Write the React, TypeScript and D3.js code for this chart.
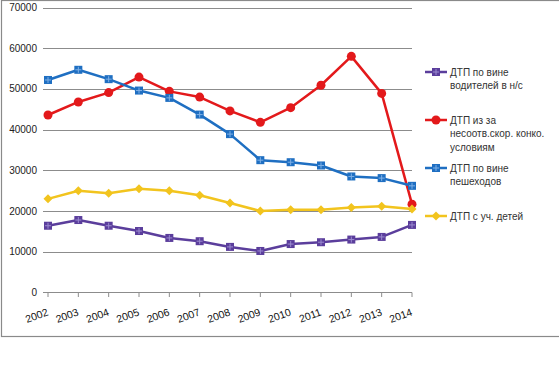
import React from "react";
import * as d3 from "d3";

const years = ["2002","2003","2004","2005","2006","2007","2008","2009","2010","2011","2012","2013","2014"];
const drivers = [16400, 17800, 16400, 15100, 13400, 12600, 11200, 10200, 11900, 12350, 13000, 13650, 16600];
const speed = [43600, 46800, 49100, 52900, 49400, 48000, 44600, 41800, 45400, 50900, 58000, 48900, 21700];
const pedestrians = [52200, 54700, 52400, 49600, 47800, 43700, 38900, 32500, 32000, 31200, 28500, 28100, 26200];
const children = [23000, 25000, 24400, 25500, 25000, 23900, 22000, 20000, 20300, 20300, 20900, 21200, 20500];
const yTicks = [0, 10000, 20000, 30000, 40000, 50000, 60000, 70000];

const seriesNames = [
  ["ДТП по вине", "водителей в н/с"],
  ["ДТП из за", "несоотв.скор. конко.", "условиям"],
  ["ДТП по вине", "пешеходов"],
  ["ДТП с уч. детей"],
];

const series = [
  { values: drivers, color: "#5B3E9C", marker: "square", cross: "#9b8bd0", legendY: 72 },
  { values: speed, color: "#E3191B", marker: "circle", cross: "", legendY: 120 },
  { values: pedestrians, color: "#1F6FC2", marker: "square", cross: "#7fb0e6", legendY: 168 },
  { values: children, color: "#F2C41E", marker: "diamond", cross: "", legendY: 216 },
];

const FONT = "'Liberation Sans', Arial, sans-serif";

function Marker({ type, x, y, color, cross }: { type: string; x: number; y: number; color: string; cross: string }) {
  if (type === "square") {
    const s = 8;
    return (
      <g>
        <rect x={x - s / 2} y={y - s / 2} width={s} height={s} fill={color} />
        {cross && (
          <g stroke={cross} strokeWidth={1}>
            <line x1={x - s / 2 + 1} x2={x + s / 2 - 1} y1={y} y2={y} />
            <line x1={x} x2={x} y1={y - s / 2 + 1} y2={y + s / 2 - 1} />
          </g>
        )}
      </g>
    );
  }
  if (type === "circle") {
    return <circle cx={x} cy={y} r={4.5} fill={color} />;
  }
  const d = 4.5;
  return <path d={`M${x},${y - d}L${x + d},${y}L${x},${y + d}L${x - d},${y}Z`} fill={color} />;
}

export default function App() {
  const W = 559, H = 384;
  const x = d3.scalePoint<string>().domain(years).range([48, 412]);
  const y = d3.scaleLinear().domain([0, 70000]).range([292.5, 7.5]);
  const line = d3.line<number>().x((_, i) => x(years[i])!).y((v) => y(v));

  return (
    <svg width={W} height={H} style={{ position: "absolute", left: 0, top: 0, background: "#fff" }} fontFamily={FONT}>
      <rect x={0} y={0} width={W} height={H} fill="#fff" />
      <rect x={1.5} y={0.5} width={W + 5} height={336} fill="none" stroke="#8a8a8a" strokeWidth={1.2} />
      {yTicks.map((t) => (
        <g key={t}>
          {t > 0 && <line x1={43} x2={412} y1={Math.round(y(t)) + 0.5} y2={Math.round(y(t)) + 0.5} stroke="#8c8c8c" strokeWidth={1} />}
          <text x={37} y={y(t)} dy="0.35em" textAnchor="end" fontSize={10} fill="#222">{t}</text>
        </g>
      ))}
      <line x1={43} x2={412} y1={292.5} y2={292.5} stroke="#8c8c8c" strokeWidth={1} />
      {years.map((yr) => (
        <g key={yr}>
          <line x1={x(yr)!} x2={x(yr)!} y1={292.5} y2={297} stroke="#8c8c8c" strokeWidth={1} />
          <text
            transform={`translate(${x(yr)! + 1},${315}) rotate(-20)`}
            textAnchor="end"
            fontSize={10.5}
            fill="#111"
          >
            {yr}
          </text>
        </g>
      ))}
      {series.map((s, si) => (
        <g key={si}>
          <path d={line(s.values) || ""} fill="none" stroke={s.color} strokeWidth={2.5} strokeLinejoin="round" />
          {s.values.map((v, i) => (
            <Marker key={i} type={s.marker} x={x(years[i])!} y={y(v)} color={s.color} cross={s.cross} />
          ))}
        </g>
      ))}
      {series.map((s, si) => (
        <g key={"l" + si}>
          <line x1={425} x2={447} y1={s.legendY} y2={s.legendY} stroke={s.color} strokeWidth={2.5} />
          <Marker type={s.marker} x={436} y={s.legendY} color={s.color} cross={s.cross} />
          {seriesNames[si].map((t, li) => (
            <text key={li} x={450} y={s.legendY + li * 13.5} dy="0.35em" fontSize={10} fill="#333">
              {t}
            </text>
          ))}
        </g>
      ))}
    </svg>
  );
}
